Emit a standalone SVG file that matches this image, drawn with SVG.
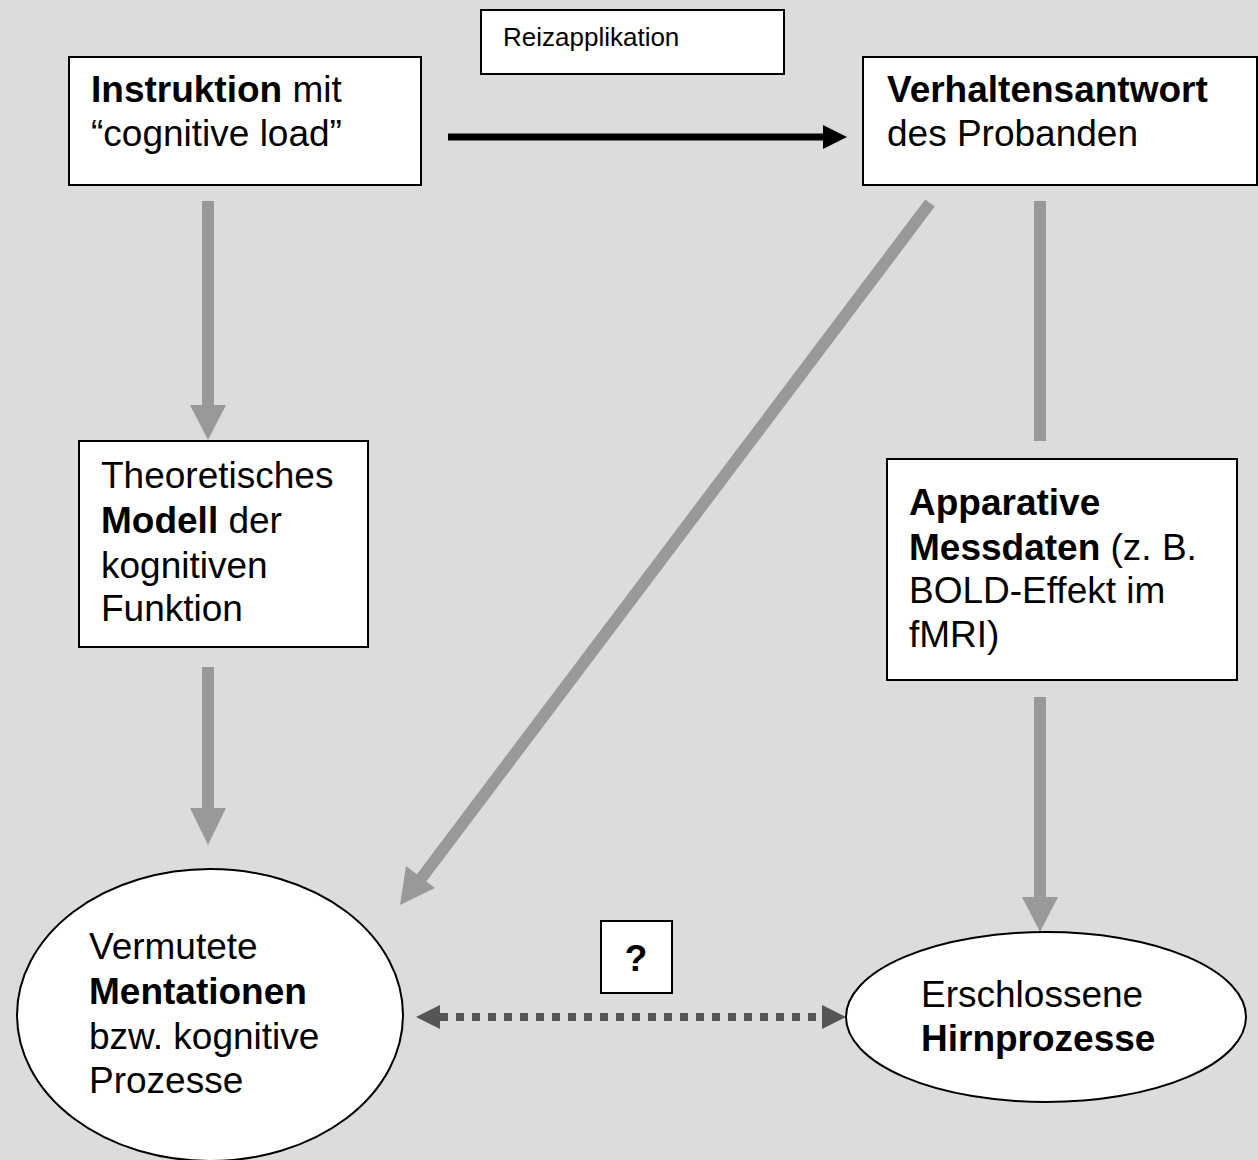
<svg xmlns="http://www.w3.org/2000/svg" width="1258" height="1160" viewBox="0 0 1258 1160">
<style>
.box{fill:#fff;stroke:#000;stroke-width:2}
.t{font-family:"Liberation Sans",Arial,sans-serif;font-size:37px;fill:#000}
.b{font-weight:bold}
.g{stroke:#999;stroke-width:12;fill:none}
.gh{fill:#999}
</style>
<rect width="1258" height="1160" fill="#dcdcdc"/>
<g id="connectors">
<line x1="448" y1="137" x2="826" y2="137" stroke="#000" stroke-width="7"/>
<polygon points="823,125 847,137 823,149" fill="#000"/>
<line class="g" x1="208" y1="201" x2="208" y2="406"/>
<polygon class="gh" points="190,405 226,405 208,440"/>
<line class="g" x1="208" y1="667" x2="208" y2="810"/>
<polygon class="gh" points="190,808 226,808 208,845"/>
<line class="g" x1="930" y1="203" x2="420" y2="880"/>
<polygon class="gh" points="406,866 435,888 400,905"/>
<line class="g" x1="1040" y1="201" x2="1040" y2="441"/>
<line class="g" x1="1040" y1="697" x2="1040" y2="898"/>
<polygon class="gh" points="1022,897 1058,897 1040,932"/>
<line x1="440" y1="1017" x2="822" y2="1017" stroke="#555" stroke-width="8" stroke-dasharray="8,8"/>
<polygon points="416,1017 440,1005 440,1029" fill="#555"/>
<polygon points="846,1017 822,1005 822,1029" fill="#555"/>
</g>
<g id="reiz">
<rect class="box" x="481" y="10" width="303" height="64"/>
<text class="t" x="503" y="46" style="font-size:26px">Reizapplikation</text>
</g>
<g id="instruktion">
<rect class="box" x="69" y="57" width="352" height="128"/>
<text class="t" x="91" y="102"><tspan class="b">Instruktion</tspan> mit</text>
<text class="t" x="91" y="146">“cognitive load”</text>
</g>
<g id="verhalten">
<rect class="box" x="863" y="57" width="394" height="128"/>
<text class="t" x="887" y="102"><tspan class="b">Verhaltensantwort</tspan></text>
<text class="t" x="887" y="146">des Probanden</text>
</g>
<g id="modell">
<rect class="box" x="79" y="441" width="289" height="206"/>
<text class="t" x="101" y="488">Theoretisches</text>
<text class="t" x="101" y="533"><tspan class="b">Modell</tspan> der</text>
<text class="t" x="101" y="578">kognitiven</text>
<text class="t" x="101" y="621">Funktion</text>
</g>
<g id="messdaten">
<rect class="box" x="887" y="459" width="350" height="221"/>
<text class="t" x="909" y="515"><tspan class="b">Apparative</tspan></text>
<text class="t" x="909" y="560"><tspan class="b">Messdaten</tspan> (z. B.</text>
<text class="t" x="909" y="603">BOLD-Effekt im</text>
<text class="t" x="909" y="647">fMRI)</text>
</g>
<g id="mentationen">
<ellipse class="box" cx="210" cy="1015" rx="193" ry="146"/>
<text class="t" x="89" y="959">Vermutete</text>
<text class="t" x="89" y="1004"><tspan class="b">Mentationen</tspan></text>
<text class="t" x="89" y="1049">bzw. kognitive</text>
<text class="t" x="89" y="1093">Prozesse</text>
</g>
<g id="frage">
<rect class="box" x="601" y="921" width="71" height="72"/>
<text class="t b" x="636" y="971" text-anchor="middle">?</text>
</g>
<g id="hirn">
<ellipse class="box" cx="1046" cy="1017" rx="200" ry="85"/>
<text class="t" x="921" y="1007">Erschlossene</text>
<text class="t b" x="921" y="1051">Hirnprozesse</text>
</g>
</svg>
